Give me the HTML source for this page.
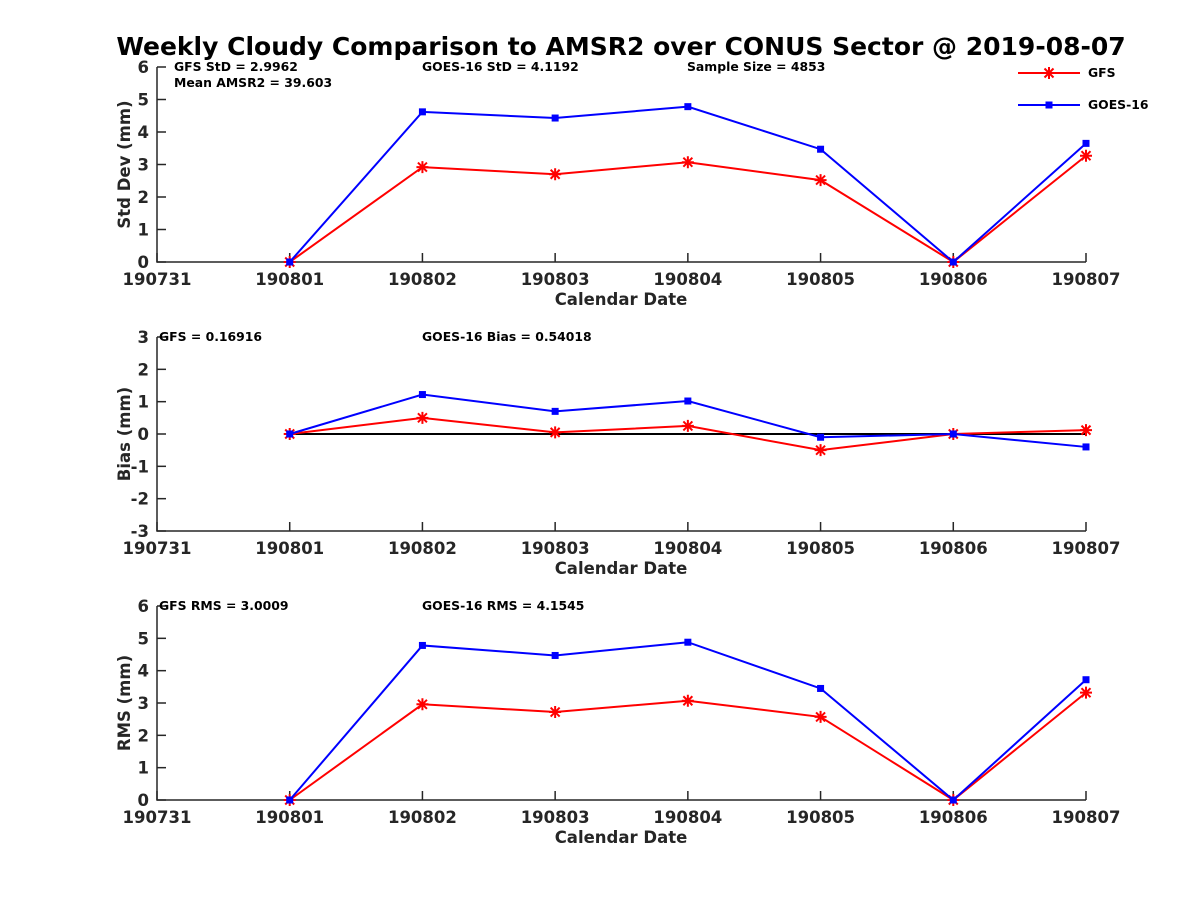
<!DOCTYPE html>
<html><head><meta charset="utf-8"><style>
html,body{margin:0;padding:0;background:#fff;}
svg{display:block;font-family:"DejaVu Sans","Liberation Sans",sans-serif;font-weight:bold;}
</style></head><body>
<svg id="c" width="1200" height="900" viewBox="0 0 1200 900">
<text x="621" y="55" text-anchor="middle" font-size="25" fill="#000">Weekly Cloudy Comparison to AMSR2 over CONUS Sector @ 2019-08-07</text>
</svg>
<script>
const dates = ['190731','190801','190802','190803','190804','190805','190806','190807'];
const ptDates = [1,2,3,4,5,6,7];
const stdGFS  = [0, 2.92, 2.70, 3.07, 2.52, 0, 3.27];
const stdGOES = [0, 4.62, 4.43, 4.78, 3.47, 0, 3.65];
const biasGFS  = [0, 0.50, 0.05, 0.25, -0.50, 0, 0.12];
const biasGOES = [0, 1.22, 0.70, 1.02, -0.10, 0, -0.40];
const rmsGFS  = [0, 2.96, 2.72, 3.07, 2.57, 0, 3.32];
const rmsGOES = [0, 4.78, 4.47, 4.88, 3.45, 0, 3.72];
const stdTicks = [0,1,2,3,4,5,6];
const biasTicks = [-3,-2,-1,0,1,2,3];

const NS='http://www.w3.org/2000/svg';
const svg=document.getElementById('c');
function mk(tag,attrs,parent){const e=document.createElementNS(NS,tag);for(const k in attrs)e.setAttribute(k,attrs[k]);(parent||svg).appendChild(e);return e;}
const X0=157,X1=1086;
function xs(i){return X0+(X1-X0)*i/7;}

function panel(cfg){
  const g=mk('g',{});
  
  
  const ys=v=>cfg.yb+(cfg.yt-cfg.yb)*(v-cfg.min)/(cfg.max-cfg.min);
  const ax=mk('path',{d:`M${X0},${cfg.yt} L${X0},${cfg.yb} L${X1},${cfg.yb}`,stroke:'#262626','stroke-width':1.5,fill:'none'},g);
  
  
  cfg.ticks.forEach(t=>{
    const y=ys(t);
    mk('line',{x1:X0,x2:X0+9,y1:y,y2:y,stroke:'#262626','stroke-width':1.5},g);
    const tl=mk('text',{x:X0-8,y:y+6,'text-anchor':'end','font-size':16.5,fill:'#262626'},g);
    tl.textContent=t;
    
    
  });
  dates.forEach((d,i)=>{
    const x=xs(i);
    mk('line',{x1:x,x2:x,y1:cfg.yb,y2:cfg.yb-9,stroke:'#262626','stroke-width':1.5},g);
    const tl=mk('text',{x:x,y:cfg.yb+23,'text-anchor':'middle','font-size':16.5,fill:'#262626'},g);
    tl.textContent=d;
    
    
  });
  const xt=mk('text',{x:621,y:cfg.yb+43,'text-anchor':'middle','font-size':16.5,fill:'#262626'},g);
  xt.textContent='Calendar Date';
  
  
  const yc=(cfg.yt+cfg.yb)/2;
  const yt=mk('text',{x:0,y:0,'text-anchor':'middle','font-size':16.5,fill:'#262626',transform:`translate(130,${yc}) rotate(-90)`},g);
  yt.textContent=cfg.ylabel;
  
  
  if(cfg.zero){
    const zl=mk('line',{x1:xs(1),x2:X1,y1:ys(0),y2:ys(0),stroke:'#000','stroke-width':2},g);
    
    
  }
  cfg.notes.forEach(n=>{
    const t=mk('text',{x:n[0],y:n[1],'font-size':12.4,fill:'#000'},g);
    t.textContent=n[2];
    
    
  });
  [[cfg.gfs,'#f00','star','gfs-line'],[cfg.goes,'#00f','sq','goes16-line']].forEach(s=>{
    const pts=s[0].map((v,i)=>[xs(ptDates[i]),ys(v)]);
    const pl=mk('polyline',{points:pts.map(p=>p.join(',')).join(' '),stroke:s[1],'stroke-width':2,fill:'none'},g);
    
    
    pts.forEach(p=>{
      if(s[2]==='sq'){
        const m=mk('rect',{x:p[0]-3.5,y:p[1]-3.5,width:7,height:7,fill:s[1]},g);
        
        
      } else {
        const m=mk('path',{d:`M${p[0]-6},${p[1]}h12M${p[0]},${p[1]-6}v12M${p[0]-4.5},${p[1]-4.5}l9,9M${p[0]-4.5},${p[1]+4.5}l9,-9`,stroke:s[1],'stroke-width':2},g);
        
        
      }
    });
  });
}
panel({name:'std-dev-panel',yt:67,yb:262,min:0,max:6,ticks:stdTicks,ylabel:'Std Dev (mm)',gfs:stdGFS,goes:stdGOES,
  notes:[[174,71,'GFS StD = 2.9962'],[174,87,'Mean AMSR2 = 39.603'],[422,71,'GOES-16 StD = 4.1192'],[687,71,'Sample Size = 4853']]});
panel({name:'bias-panel',yt:337,yb:531,min:-3,max:3,ticks:biasTicks,ylabel:'Bias (mm)',gfs:biasGFS,goes:biasGOES,zero:true,
  notes:[[159,341,'GFS = 0.16916'],[422,341,'GOES-16 Bias  = 0.54018']]});
panel({name:'rms-panel',yt:606,yb:800,min:0,max:6,ticks:stdTicks,ylabel:'RMS (mm)',gfs:rmsGFS,goes:rmsGOES,
  notes:[[159,610,'GFS RMS = 3.0009'],[422,610,'GOES-16 RMS = 4.1545']]});
const lg=mk('g',{});


mk('line',{x1:1018,x2:1080,y1:73,y2:73,stroke:'#f00','stroke-width':2},lg);
mk('path',{d:'M1043,73h12M1049,67v12M1044.5,68.5l9,9M1044.5,77.5l9,-9',stroke:'#f00','stroke-width':2},lg);
const t1=mk('text',{x:1088,y:77,'font-size':12.4,fill:'#000'},lg);t1.textContent='GFS';


mk('line',{x1:1018,x2:1080,y1:105,y2:105,stroke:'#00f','stroke-width':2},lg);
mk('rect',{x:1045.5,y:101.5,width:7,height:7,fill:'#00f'},lg);
const t2=mk('text',{x:1088,y:109,'font-size':12.4,fill:'#000'},lg);t2.textContent='GOES-16';


</script>
</body></html>
